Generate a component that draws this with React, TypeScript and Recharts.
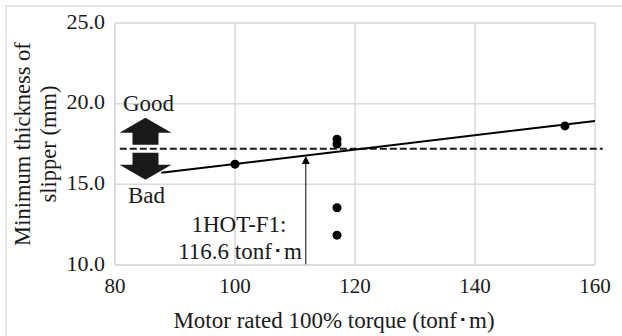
import {
  CartesianGrid,
  ComposedChart,
  Line,
  ReferenceDot,
  ReferenceLine,
  Scatter,
  XAxis,
  YAxis,
} from "recharts";

// measured points (motor torque vs minimum slipper thickness)
const torque = [100, 117, 117, 117, 117, 155];
const thickness = [16.25, 17.8, 17.5, 13.55, 11.85, 18.62];

// fitted trend line end points
const trendX = [87.7, 160];
const trendY = [15.72, 18.93];

// threshold thickness (dashed) and 1HOT-F1 marker
const threshold = 17.2;
const markerX = 111.8;
const markerTop = 16.75;

const xTicks = [80, 100, 120, 140, 160];
const yTicks = [10, 15, 20, 25];

const points = torque.map((x, i) => ({ x, y: thickness[i] }));
const trend = trendX.map((x, i) => ({ x, y: trendY[i] }));

const FONT = "Liberation Serif, serif";
const GRID = "#d9d9d9";
const INK = "#1a1a1a";

const Dot = (props: any) => <circle cx={props.cx} cy={props.cy} r={4.5} fill="#000" />;

// thin arrow pointing up to the trend line
const MarkerArrow = (props: any) => {
  const { x1, y1, x2, y2 } = props;
  const top = Math.min(y1, y2);
  const bottom = Math.max(y1, y2);
  return (
    <g>
      <line x1={x1} y1={bottom} x2={x2} y2={top + 6} stroke="#000" strokeWidth={1} />
      <polygon points={`${x1 - 4},${top + 8} ${x1 + 4},${top + 8} ${x1},${top}`} fill="#000" />
    </g>
  );
};

// big Good / Bad arrows either side of the dashed line
const GoodBad = (props: any) => {
  const { cx, cy } = props;
  const up = [
    [cx - 13, cy - 4],
    [cx - 13, cy - 16],
    [cx - 26, cy - 16],
    [cx, cy - 31],
    [cx + 26, cy - 16],
    [cx + 13, cy - 16],
    [cx + 13, cy - 4],
  ];
  const down = up.map(([x, y]) => [x, 2 * cy - y]);
  const toStr = (p: number[][]) => p.map((q) => q.join(",")).join(" ");
  return (
    <g>
      <polygon points={toStr(up)} fill={INK} />
      <polygon points={toStr(down)} fill={INK} />
    </g>
  );
};

export default function App() {
  return (
    <div
      style={{
        position: "absolute",
        left: 0,
        top: 0,
        width: 622,
        height: 336,
        background: "#fff",
        fontFamily: FONT,
        overflow: "hidden",
      }}
    >
      <div
        style={{
          position: "absolute",
          left: 5,
          top: 5,
          width: 640,
          height: 360,
          borderTop: "2px solid #e6e6e6",
          borderLeft: "2px solid #e6e6e6",
        }}
      />
      <div style={{ position: "absolute", left: 0, top: 0 }}>
        <ComposedChart
          width={622}
          height={336}
          margin={{ top: 23, right: 27, bottom: 41, left: 55 }}
          style={{ fontFamily: FONT }}
        >
          <CartesianGrid stroke={GRID} strokeWidth={1.5} />
          <XAxis
            dataKey="x"
            type="number"
            domain={[80, 160]}
            ticks={xTicks}
            height={30}
            axisLine={{ stroke: GRID, strokeWidth: 1.5 }}
            tickLine={false}
            tickSize={0}
            tickMargin={13}
            tick={{ fill: INK, fontSize: 21, style: { fontFamily: FONT } }}
            allowDataOverflow
          />
          <YAxis
            dataKey="y"
            type="number"
            domain={[10, 25]}
            ticks={yTicks}
            width={60}
            axisLine={{ stroke: GRID, strokeWidth: 1.5 }}
            tickLine={false}
            tickSize={0}
            tickMargin={10}
            tickFormatter={(v: number) => v.toFixed(1)}
            tick={{ fill: INK, fontSize: 22, dy: -2, style: { fontFamily: FONT } }}
          />
          <ReferenceLine
            segment={[
              { x: 80.8, y: threshold },
              { x: 161.3, y: threshold },
            ]}
            stroke={INK}
            strokeWidth={2}
            strokeDasharray="7 3"
            ifOverflow="visible"
          />
          <ReferenceLine
            segment={[
              { x: markerX, y: 10 },
              { x: markerX, y: markerTop },
            ]}
            shape={MarkerArrow}
            ifOverflow="visible"
          />
          <Line
            data={trend}
            dataKey="y"
            type="linear"
            stroke="#000"
            strokeWidth={2}
            dot={false}
            isAnimationActive={false}
          />
          <Scatter data={points} dataKey="y" shape={Dot} isAnimationActive={false} />
          <ReferenceDot x={85.08} y={threshold} shape={GoodBad} ifOverflow="visible" />
        </ComposedChart>
      </div>
      <svg
        width={622}
        height={336}
        style={{ position: "absolute", left: 0, top: 0, pointerEvents: "none", fontFamily: FONT }}
        fill={INK}
        fontSize={23}
      >
        <g transform="translate(22,144) rotate(-90)" fontSize={22.5}>
          <text x={0} y={0} textAnchor="middle" dominantBaseline="central">
            Minimum thickness of
          </text>
          <text x={0} y={26} textAnchor="middle" dominantBaseline="central">
            slipper (mm)
          </text>
        </g>
        <text x={334} y={328} textAnchor="middle">
          Motor rated 100% torque (tonf･m)
        </text>
        <text x={123} y={111}>Good</text>
        <text x={128} y={203}>Bad</text>
        <text x={239} y={232} textAnchor="middle">
          1HOT-F1:
        </text>
        <text x={240} y={259} textAnchor="middle">
          116.6 tonf･m
        </text>
      </svg>
    </div>
  );
}
